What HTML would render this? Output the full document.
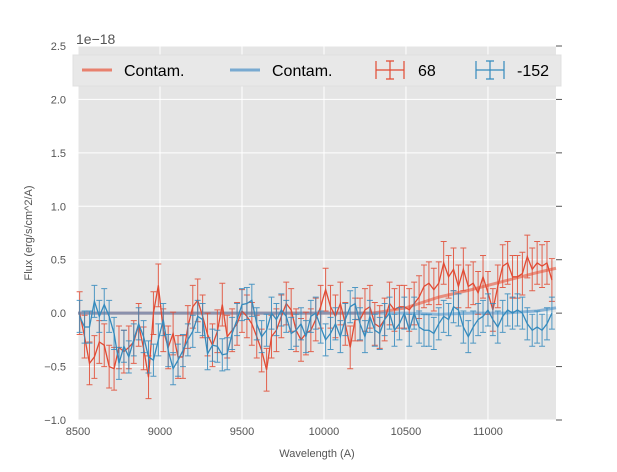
<!DOCTYPE html>
<html><head><meta charset="utf-8"><style>
body{margin:0;background:#fff;font-family:"Liberation Sans","DejaVu Sans",sans-serif}
</style></head><body>
<svg id="chart" width="617" height="467" viewBox="0 0 617 467" xmlns="http://www.w3.org/2000/svg"></svg>
<script>
const xTicks=[8500,9000,9500,10000,10500,11000];
const yTicks=[-1.0,-0.5,0.0,0.5,1.0,1.5,2.0,2.5];
const yTickLabels=["−1.0","−0.5","0.0","0.5","1.0","1.5","2.0","2.5"];
const waveStart=8510, waveStep=30;
const fluxRed=[0.0,-0.22,-0.47,-0.41,-0.27,-0.30,-0.50,-0.52,-0.32,-0.36,-0.32,-0.27,-0.11,-0.33,-0.60,0.0,0.26,-0.16,-0.32,-0.19,-0.41,-0.41,-0.13,0.06,0.12,-0.03,-0.2,-0.3,-0.17,0.08,-0.22,-0.16,-0.1,0.02,
-0.03,-0.1,-0.22,-0.35,-0.53,-0.22,-0.16,-0.03,0.09,0.03,-0.16,-0.25,-0.19,-0.16,-0.06,0.06,0.22,0.06,-0.03,0.09,-0.1,-0.32,-0.06,-0.06,0.03,0.06,-0.1,-0.13,-0.06,0.09,0.03,0.06,
0.06,0.03,0.09,0.15,0.25,0.28,0.22,0.28,0.47,0.34,0.41,0.25,0.41,0.25,0.28,0.19,0.34,0.19,0.03,0.25,0.44,0.47,0.34,0.34,0.37,0.53,0.41,0.47,0.44,0.47,0.31];
const fluxBlue=[-0.03,-0.13,-0.13,0.11,-0.03,0.08,-0.03,-0.19,-0.47,-0.31,-0.41,-0.25,-0.1,-0.22,-0.41,-0.44,-0.25,-0.06,-0.35,-0.52,-0.44,-0.35,-0.25,-0.17,-0.03,-0.06,-0.38,-0.3,-0.31,-0.39,-0.38,-0.19,-0.06,0.08,
0.09,0.12,-0.1,-0.22,-0.16,0.0,-0.06,0.03,-0.03,-0.19,-0.16,-0.1,-0.22,-0.03,0.0,-0.13,-0.25,-0.19,-0.1,-0.22,-0.06,0.06,0.09,-0.1,-0.22,-0.03,-0.16,-0.19,-0.06,0.0,-0.16,-0.1,
0,-0.16,0,-0.13,-0.16,-0.16,-0.19,-0.1,-0.03,-0.06,0.06,0.03,-0.13,-0.22,-0.13,-0.06,-0.03,0.03,-0.06,-0.13,-0.03,0.03,0,0.03,0,-0.1,-0.16,-0.13,-0.16,-0.1,0];
const errRed=[0.2];
const errBlue=[0.15];
const contamWave=[8500,10300,10500,10700,10900,11100,11300,11415];
const contamRed=[0,0,0.05,0.15,0.22,0.3,0.38,0.42];
const contamBlue=[0,0,0,-0.01,0,0,0.02,0.05];

const L=78,R=556,T=46,B=420,xmin=8500,xmax=11415,ymin=-1,ymax=2.5;
const X=v=>L+(v-xmin)/(xmax-xmin)*(R-L);
const Y=v=>B-(v-ymin)/(ymax-ymin)*(B-T);
const svg=document.getElementById('chart');
const NS='http://www.w3.org/2000/svg';
function mk(tag,attrs,parent){const e=document.createElementNS(NS,tag);for(const k in attrs)e.setAttribute(k,attrs[k]);(parent||svg).appendChild(e);return e;}
let e;
e=mk('rect',{x:L,y:T,width:R-L,height:B-T,fill:'#e5e5e5'});


xTicks.forEach((t,i)=>{
 e=mk('line',{x1:X(t),x2:X(t),y1:T,y2:B,stroke:'#fff','stroke-width':1});
 
 
 e=mk('text',{x:X(t),y:B+15,'text-anchor':'middle','font-size':11,fill:'#555'});e.textContent=t;
 
 
});
yTicks.forEach((t,i)=>{
 e=mk('line',{x1:L,x2:R,y1:Y(t),y2:Y(t),stroke:'#fff','stroke-width':1});
 
 
 e=mk('line',{x1:R,x2:R+6,y1:Y(t),y2:Y(t),stroke:'#555','stroke-width':1});
 
 
 e=mk('text',{x:L-12,y:Y(t)+4,'text-anchor':'end','font-size':11,fill:'#555'});e.textContent=yTickLabels[i];
 
 
});
function contam(vals,color,name){
 const d=contamWave.map((w,i)=>(i?'L':'M')+X(w)+','+Y(vals[i])).join(' ');
 e=mk('path',{d:d,fill:'none',stroke:color,'stroke-width':3,'stroke-opacity':0.6});
 
 
}
contam(contamRed,'#e8553a','contam-line-68');
contam(contamBlue,'#4a90c8','contam-line-152');
function series(vals,err,color,name){
 const g=mk('g',{});
 
 
 vals.forEach((v,i)=>{
  const x=X(waveStart+i*waveStep),y1=Y(v-err[0]),y2=Y(v+err[0]);
  e=mk('path',{d:`M${x},${y1}L${x},${y2}M${x-3},${y1}L${x+3},${y1}M${x-3},${y2}L${x+3},${y2}`,stroke:color,'stroke-width':1,'stroke-opacity':0.85,fill:'none'},g);
  
  
 });
 const d=vals.map((v,i)=>(i?'L':'M')+X(waveStart+i*waveStep)+','+Y(v)).join(' ');
 e=mk('path',{d:d,fill:'none',stroke:color,'stroke-width':1.3},g);
 
 
}
series(fluxRed,errRed,'#e24a33','series-68');
series(fluxBlue,errBlue,'#348abd','series-152');
// legend
const lg=mk('g',{});


mk('rect',{x:73,y:55,width:488,height:31,fill:'#e8e8e8',stroke:'#e0e0e0'},lg);
function ltext(x,t,n){e=mk('text',{x:x,y:76,'font-size':16,fill:'#000'},lg);e.textContent=t;
 
 }
mk('line',{x1:82,x2:112,y1:70,y2:70,stroke:'#e8553a','stroke-width':3,'stroke-opacity':0.7},lg);
ltext(124,'Contam.','legend-contam-68');
mk('line',{x1:230,x2:260,y1:70,y2:70,stroke:'#4a90c8','stroke-width':3,'stroke-opacity':0.7},lg);
ltext(272,'Contam.','legend-contam-152');
function ebIcon(x,c){mk('path',{d:`M${x},70L${x+28},70M${x+14},61L${x+14},79M${x+10},61L${x+18},61M${x+10},79L${x+18},79M${x},61L${x},79M${x+28},61L${x+28},79`,stroke:c,'stroke-width':1.2,fill:'none'},lg);}
ebIcon(376,'#e24a33');ltext(418,'68','legend-68');
ebIcon(476,'#348abd');ltext(517,'-152','legend-152');
e=mk('text',{x:76,y:44,'font-size':14,fill:'#555'});e.textContent='1e−18';


e=mk('text',{x:317,y:457,'text-anchor':'middle','font-size':11,fill:'#555'});e.textContent='Wavelength (A)';


e=mk('text',{x:32,y:233,'text-anchor':'middle','font-size':11,fill:'#555',transform:'rotate(-90 32 233)'});e.textContent='Flux (erg/s/cm^2/A)';


</script>
</body></html>
